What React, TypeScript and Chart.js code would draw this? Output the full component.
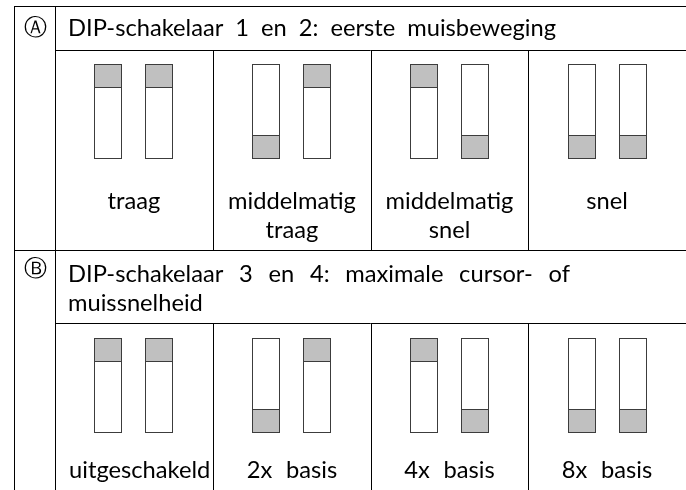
import React, { useEffect, useRef } from "react";
import { Chart, registerables } from "chart.js";

Chart.register(...registerables);

// ---------------- data ----------------
const sectionMarkers = ["Ⓐ", "Ⓑ"];
const headerLinesA = ["DIP-schakelaar 1 en 2: eerste muisbeweging"];
const headerLinesB = ["DIP-schakelaar 3 en 4: maximale cursor- of", "muissnelheid"];
const settingLabelsA = [["traag"], ["middelmatig", "traag"], ["middelmatig", "snel"], ["snel"]];
const settingLabelsB = [["uitgeschakeld"], ["2x basis"], ["4x basis"], ["8x basis"]];
// lever state of the two switches per setting: 1 = lever up, 0 = lever down
const switchStatesA = [[1, 1], [0, 1], [1, 0], [0, 0]];
const switchStatesB = [[1, 1], [0, 1], [1, 0], [0, 0]];
const SWITCH_TRAVEL = 4; // switch body spans 0..4 units, the lever is 1 unit

// ---------------- layout / style ----------------
const W = 686;
const LINE_LEFT = 14.5;
const CELL_PAD = 13;
const WORD_GAP = 13.5;
const SWITCH_SLOTS = [0.338, 0.662];
const TEXT_FONT = "Lato";

type Layout = {
  top: number;
  height: number;
  topLine: number;
  headerBottom: number;
  switchTop: number;
  switchBottom: number;
  markerY: number;
  headerBaselines: number[];
  headerRight: (number | null)[];
  labelBaselines: number[];
};

const LAYOUTS: Layout[] = [
  {
    top: 0,
    height: 250,
    topLine: 6.5,
    headerBottom: 50.5,
    switchTop: 64,
    switchBottom: 159,
    markerY: 29,
    headerBaselines: [36],
    headerRight: [556],
    labelBaselines: [209, 238],
  },
  {
    top: 250,
    height: 240,
    topLine: 0.5,
    headerBottom: 73.5,
    switchTop: 88,
    switchBottom: 183,
    markerY: 20,
    headerBaselines: [32, 60.5],
    headerRight: [570, null],
    labelBaselines: [228],
  },
];

type Section = {
  marker: string;
  headerLines: string[];
  labels: string[][];
  states: number[][];
  layout: Layout;
};

const SECTIONS: Section[] = [
  { marker: sectionMarkers[0], headerLines: headerLinesA, labels: settingLabelsA, states: switchStatesA, layout: LAYOUTS[0] },
  { marker: sectionMarkers[1], headerLines: headerLinesB, labels: settingLabelsB, states: switchStatesB, layout: LAYOUTS[1] },
];

let cachedFontPx = 0;
function fontPx(ctx: CanvasRenderingContext2D): number {
  if (cachedFontPx) return cachedFontPx;
  ctx.save();
  ctx.font = `100px ${TEXT_FONT}`;
  const w = ctx.measureText("middelmatig").width;
  ctx.restore();
  cachedFontPx = Math.round((128 / w) * 100 * 10) / 10;
  return cachedFontPx;
}

function wordsWidth(ctx: CanvasRenderingContext2D, words: string[]) {
  return words.reduce((s, w) => s + ctx.measureText(w).width, 0);
}

function textWidth(ctx: CanvasRenderingContext2D, text: string) {
  const words = text.split(" ");
  return wordsWidth(ctx, words) + WORD_GAP * (words.length - 1);
}

function drawWords(ctx: CanvasRenderingContext2D, text: string, x0: number, baseline: number, right?: number | null) {
  const words = text.split(" ");
  let gap = WORD_GAP;
  if (right != null && words.length > 1) {
    gap = (right - x0 - wordsWidth(ctx, words)) / (words.length - 1);
  }
  let x = x0;
  for (const w of words) {
    ctx.fillText(w, x, baseline);
    x += ctx.measureText(w).width + gap;
  }
}

function makeTablePlugin(section: Section) {
  const L = section.layout;
  return {
    id: "dipTable",
    beforeDraw(chart: any) {
      const { ctx } = chart;
      ctx.save();
      ctx.fillStyle = "#ffffff";
      ctx.fillRect(0, 0, chart.width, chart.height);
      ctx.restore();
    },
    afterDraw(chart: any) {
      const { ctx } = chart;
      const xs = chart.scales.x;
      const H = chart.height;
      const colEdge = (c: number) => Math.floor(xs.getPixelForValue(c)) + 0.5;
      ctx.save();
      ctx.strokeStyle = "#000000";
      ctx.lineWidth = 1;
      const line = (x1: number, y1: number, x2: number, y2: number) => {
        ctx.beginPath();
        ctx.moveTo(x1, y1);
        ctx.lineTo(x2, y2);
        ctx.stroke();
      };
      // frame
      line(LINE_LEFT - 0.5, L.topLine, W, L.topLine);
      line(LINE_LEFT, L.topLine - 0.5, LINE_LEFT, H);
      const inner = colEdge(0);
      line(inner, L.topLine - 0.5, inner, H);
      line(inner - 0.5, L.headerBottom, W, L.headerBottom);
      for (let c = 1; c < section.states.length; c++) {
        const px = colEdge(c);
        line(px, L.headerBottom - 0.5, px, H);
      }

      // marker
      ctx.fillStyle = "#000000";
      ctx.font = `23px "DejaVu Sans"`;
      ctx.textAlign = "center";
      ctx.textBaseline = "middle";
      ctx.fillText(section.marker, (LINE_LEFT + inner) / 2, L.markerY);

      // header text
      const fp = fontPx(ctx);
      ctx.font = `${fp}px ${TEXT_FONT}`;
      ctx.textAlign = "left";
      ctx.textBaseline = "alphabetic";
      section.headerLines.forEach((t, i) => {
        drawWords(ctx, t, inner - 0.5 + CELL_PAD, L.headerBaselines[i], L.headerRight[i]);
      });

      // setting labels
      section.labels.forEach((lines, c) => {
        const left = xs.getPixelForValue(c);
        const right = xs.getPixelForValue(c + 1);
        const center = (left + right) / 2;
        lines.forEach((t, i) => {
          const tw = textWidth(ctx, t);
          let x0 = center - tw / 2;
          if (tw > right - left - 2 * CELL_PAD) x0 = left + CELL_PAD + 1;
          drawWords(ctx, t, x0, L.labelBaselines[i]);
        });
      });
      ctx.restore();
    },
  };
}

function SectionChart({ section }: { section: Section }) {
  const ref = useRef<HTMLCanvasElement | null>(null);
  useEffect(() => {
    if (!ref.current) return;
    const L = section.layout;
    const bodyPoints = section.states.flatMap((col, c) =>
      col.map((_s, k) => ({ x: c + SWITCH_SLOTS[k], y: [0, SWITCH_TRAVEL] }))
    );
    const leverPoints = section.states.flatMap((col, c) =>
      col.map((s, k) => ({
        x: c + SWITCH_SLOTS[k],
        y: s === 1 ? [SWITCH_TRAVEL - 1, SWITCH_TRAVEL] : [0, 1],
      }))
    );
    const common = {
      borderColor: "#3c3c3c",
      borderWidth: 1,
      borderSkipped: false,
      grouped: false,
      barThickness: 28,
      inflateAmount: 0,
    };
    const chart = new Chart(ref.current, {
      type: "bar",
      data: {
        datasets: [
          { ...common, label: "lever", data: leverPoints as any, backgroundColor: "#c0c0c0", order: 0 },
          { ...common, label: "switch", data: bodyPoints as any, backgroundColor: "#ffffff", order: 1 },
        ] as any,
      },
      options: {
        responsive: false,
        animation: false,
        devicePixelRatio: 1,
        events: [],
        layout: {
          padding: { left: 55, right: -2, top: L.switchTop, bottom: L.height - L.switchBottom },
        },
        scales: {
          x: { type: "linear", min: 0, max: section.states.length, display: false, offset: false, alignToPixels: true },
          y: { type: "linear", min: 0, max: SWITCH_TRAVEL, display: false, alignToPixels: true },
        },
        plugins: { legend: { display: false }, tooltip: { enabled: false } },
      } as any,
      plugins: [makeTablePlugin(section)],
    });
    return () => chart.destroy();
  }, [section]);
  const L = section.layout;
  return (
    <canvas
      ref={ref}
      width={W}
      height={L.height}
      style={{ position: "absolute", left: 0, top: L.top, display: "block" }}
    />
  );
}

export default function App() {
  return (
    <div
      style={{
        position: "fixed",
        left: 0,
        top: 0,
        width: W,
        height: 490,
        background: "#ffffff",
        overflow: "hidden",
      }}
    >
      {SECTIONS.map((s, i) => (
        <SectionChart key={i} section={s} />
      ))}
    </div>
  );
}
